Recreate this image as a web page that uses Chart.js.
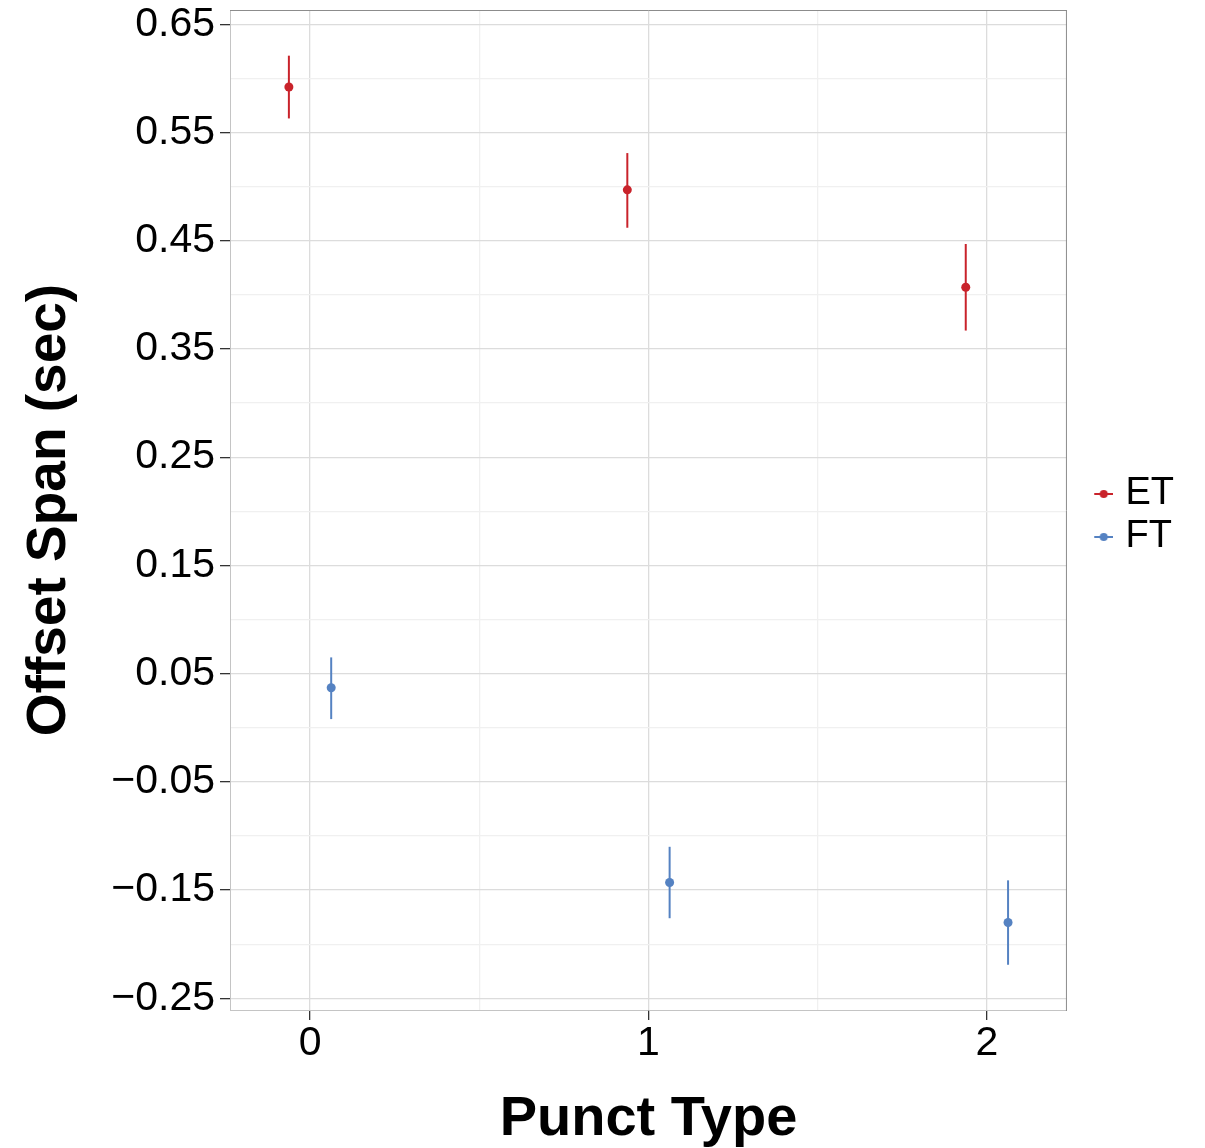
<!DOCTYPE html>
<html>
<head>
<meta charset="utf-8">
<script src="https://cdn.jsdelivr.net/npm/chart.js@4.4.1/dist/chart.umd.min.js"></script>
<style>
  html, body { margin: 0; padding: 0; background: #fff; }
</style>
</head>
<body>
<canvas id="offsetChart" width="1205" height="1148"></canvas>
<script>
// Punct type categories on the x axis, groups are dodged left / right
const punctTypes = [0, 1, 2];
const dodge = 0.0625;

// ET: mean and interval ends
const etMean = [0.592, 0.497, 0.407];
const etLow  = [0.563, 0.462, 0.367];
const etHigh = [0.621, 0.531, 0.447];

// FT: mean and interval ends
const ftMean = [0.037, -0.143, -0.180];
const ftLow  = [0.008, -0.176, -0.219];
const ftHigh = [0.065, -0.110, -0.141];

// axis ticks
const yMajorTicks = [-0.25, -0.15, -0.05, 0.05, 0.15, 0.25, 0.35, 0.45, 0.55, 0.65];
const yMinorTicks = [-0.20, -0.10, 0.00, 0.10, 0.20, 0.30, 0.40, 0.50, 0.60];
const xMajorTicks = [0, 1, 2];
const xMinorTicks = [0.5, 1.5];

const RED = '#c9232b';
const BLUE = '#5582c2';
const FONT = "'Liberation Sans', Arial, Helvetica, sans-serif";

Chart.defaults.font.family = FONT;
Chart.defaults.color = '#000';

const isMajor = (list, v) => list.some(t => Math.abs(t - v) < 1e-9);
const fmt = v => (v < -1e-9 ? '\u2212' : '') + Math.abs(v).toFixed(2);

// small line + dot used as legend key
function legendSymbol(color) {
    const c = document.createElement('canvas');
    c.width = 48;
    c.height = 12;
    const g = c.getContext('2d');
    g.strokeStyle = color;
    g.lineWidth = 2;
    g.beginPath();
    g.moveTo(29, 6);
    g.lineTo(48, 6);
    g.stroke();
    g.fillStyle = color;
    g.beginPath();
    g.arc(38.5, 6, 4, 0, Math.PI * 2);
    g.fill();
    return c;
}

// vertical interval lines under the points
const errorBars = {
    id: 'errorBars',
    beforeDatasetsDraw(chart) {
        const { ctx, scales: { x, y } } = chart;
        ctx.save();
        chart.data.datasets.forEach(ds => {
            ctx.strokeStyle = ds.borderColor;
            ctx.lineWidth = 2;
            ds.data.forEach((p, i) => {
                const px = x.getPixelForValue(p.x);
                ctx.beginPath();
                ctx.moveTo(px, y.getPixelForValue(ds.errLow[i]));
                ctx.lineTo(px, y.getPixelForValue(ds.errHigh[i]));
                ctx.stroke();
            });
        });
        ctx.restore();
    }
};

// panel border all round
const panelBorder = {
    id: 'panelBorder',
    beforeDatasetsDraw(chart) {
        const { ctx, chartArea: a } = chart;
        ctx.save();
        ctx.lineWidth = 1;
        ctx.strokeStyle = '#c4c4c4';
        ctx.beginPath();
        ctx.moveTo(a.left + 0.5, a.top);
        ctx.lineTo(a.left + 0.5, a.bottom);
        ctx.moveTo(a.left, a.bottom + 0.5);
        ctx.lineTo(a.right, a.bottom + 0.5);
        ctx.stroke();
        ctx.strokeStyle = '#8c8c8c';
        ctx.beginPath();
        ctx.moveTo(a.left, a.top + 0.5);
        ctx.lineTo(a.right, a.top + 0.5);
        ctx.moveTo(a.right - 0.5, a.top);
        ctx.lineTo(a.right - 0.5, a.bottom + 1);
        ctx.stroke();
        ctx.restore();
    }
};

const gridColor = (list) => ctx => isMajor(list, ctx.tick.value) ? '#dcdcdc' : '#f0f0f0';
const tickColor = (list) => ctx => isMajor(list, ctx.tick.value) ? '#333333' : 'rgba(0,0,0,0)';

new Chart(document.getElementById('offsetChart'), {
    type: 'scatter',
    data: {
        datasets: [
            {
                label: 'ET',
                data: punctTypes.map((c, i) => ({ x: c - dodge, y: etMean[i] })),
                errLow: etLow,
                errHigh: etHigh,
                borderColor: RED,
                backgroundColor: RED,
                pointRadius: 4.5,
                pointBorderWidth: 0
            },
            {
                label: 'FT',
                data: punctTypes.map((c, i) => ({ x: c + dodge, y: ftMean[i] })),
                errLow: ftLow,
                errHigh: ftHigh,
                borderColor: BLUE,
                backgroundColor: BLUE,
                pointRadius: 4.5,
                pointBorderWidth: 0
            }
        ]
    },
    options: {
        responsive: false,
        animation: false,
        devicePixelRatio: 1,
        layout: { padding: { top: 10, right: 21, bottom: 0, left: 0 } },
        plugins: {
            tooltip: { enabled: false },
            legend: {
                position: 'right',
                align: 'center',
                fullSize: false,
                title: { display: true, text: '', padding: { top: 10, bottom: 0 }, font: { size: 1, lineHeight: 1 } },
                labels: {
                    usePointStyle: true,
                    pointStyleWidth: 34.5,
                    padding: 5,
                    color: '#000',
                    font: { size: 38 },
                    generateLabels: chart => chart.data.datasets.map((ds, i) => ({
                        text: ds.label,
                        pointStyle: legendSymbol(ds.borderColor),
                        fillStyle: ds.borderColor,
                        strokeStyle: ds.borderColor,
                        lineWidth: 0,
                        fontColor: '#000',
                        hidden: false,
                        datasetIndex: i
                    }))
                }
            }
        },
        scales: {
            x: {
                type: 'linear',
                min: -0.2365,
                max: 2.2365,
                afterBuildTicks: scale => {
                    scale.ticks = [...xMajorTicks, ...xMinorTicks].sort((a, b) => a - b).map(v => ({ value: v }));
                },
                afterFit: scale => {
                    scale.height = 138;
                    scale.paddingLeft = 0;
                    scale.paddingRight = 0;
                },
                ticks: {
                    autoSkip: false,
                    maxRotation: 0,
                    padding: 3,
                    font: { size: 41, lineHeight: 1 },
                    color: '#000',
                    callback: v => isMajor(xMajorTicks, v) ? String(v) : ''
                },
                grid: {
                    color: gridColor(xMajorTicks),
                    tickColor: tickColor(xMajorTicks),
                    tickLength: 10,
                    lineWidth: 1.3
                },
                border: { display: false },
                title: {
                    display: true,
                    text: 'Punct Type',
                    color: '#000',
                    font: { size: 56, weight: 'bold', lineHeight: 1 },
                    padding: { top: 0, bottom: 0 }
                }
            },
            y: {
                type: 'linear',
                min: -0.2608,
                max: 0.6632,
                afterBuildTicks: scale => {
                    scale.ticks = [...yMajorTicks, ...yMinorTicks].sort((a, b) => a - b).map(v => ({ value: v }));
                },
                afterFit: scale => {
                    scale.width = 230;
                    scale.paddingTop = 0;
                    scale.paddingBottom = 0;
                },
                ticks: {
                    autoSkip: false,
                    padding: 5,
                    font: { size: 41 },
                    color: '#000',
                    callback: v => isMajor(yMajorTicks, v) ? fmt(v) : ''
                },
                grid: {
                    color: gridColor(yMajorTicks),
                    tickColor: tickColor(yMajorTicks),
                    tickLength: 10,
                    lineWidth: 1.3
                },
                border: { display: false },
                title: {
                    display: true,
                    text: 'Offset Span (sec)',
                    color: '#000',
                    font: { size: 55, weight: 'bold' },
                    padding: { top: 17, bottom: 0 }
                }
            }
        }
    },
    plugins: [errorBars, panelBorder]
});
</script>
</body>
</html>
